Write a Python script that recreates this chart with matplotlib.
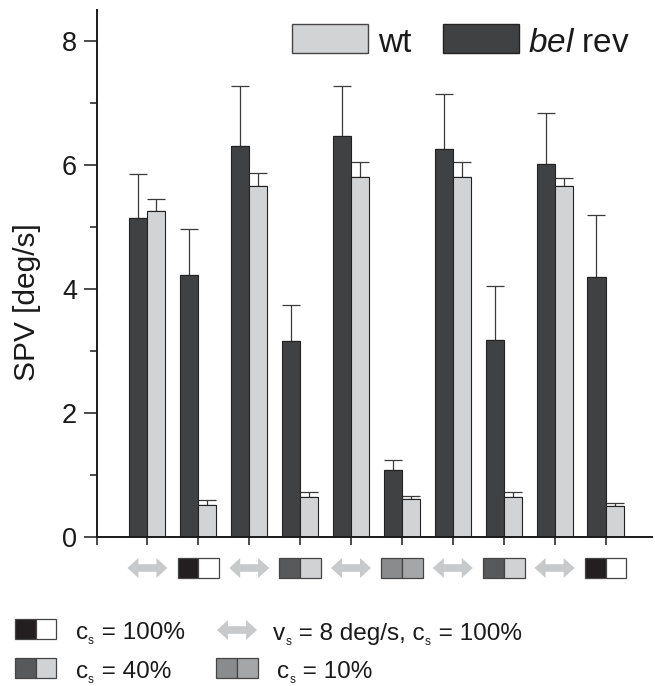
import numpy as np
import matplotlib
matplotlib.use("Agg")
import matplotlib.pyplot as plt
from matplotlib.patches import Rectangle, Polygon
from matplotlib.ticker import MultipleLocator

plt.rcParams['font.family'] = ['Liberation Sans', 'DejaVu Sans']
plt.rcParams['mathtext.fontset'] = 'custom'
plt.rcParams['mathtext.rm'] = 'Liberation Sans'
plt.rcParams['mathtext.it'] = 'Liberation Sans:italic'

# ---- data ----
stimuli = ['arrow', 'c100', 'arrow', 'c40', 'arrow', 'c10', 'arrow', 'c40', 'arrow', 'c100']
bel_rev_mean = [5.14, 4.22, 6.31, 3.16, 6.46, 1.08, 6.26, 3.18, 6.02, 4.19]
bel_rev_err = [0.72, 0.75, 0.97, 0.59, 0.82, 0.16, 0.88, 0.87, 0.82, 1.00]
wt_mean = [5.26, 0.52, 5.66, 0.64, 5.81, 0.61, 5.81, 0.64, 5.66, 0.50]
wt_err = [0.19, 0.07, 0.21, 0.08, 0.24, 0.05, 0.24, 0.09, 0.13, 0.05]
series_labels = ['wt', r'$\mathit{bel}$ rev']
yticks = [0, 2, 4, 6, 8]
# legend labels as (text, is_subscript) segments
legend_items = [('c100', [('c', False), ('s', True), (' = 100%', False)]),
                ('arrow', [('v', False), ('s', True), (' = 8 deg/s, c', False), ('s', True), (' = 100%', False)]),
                ('c40', [('c', False), ('s', True), (' = 40%', False)]),
                ('c10', [('c', False), ('s', True), (' = 10%', False)])]

# ---- style ----
DARK = '#404142'
LIGHT = '#d2d3d5'
EDGE = '#222222'
ARROW = '#c8c9cb'
ICON = {'c100': ('#231f20', '#ffffff'),
        'c40': ('#58595b', '#d1d2d4'),
        'c10': ('#8a8b8d', '#a5a6a8')}

W, H = 655, 686
fig = plt.figure(figsize=(W / 100, H / 100), dpi=100)

ax_l, ax_r, ax_b, ax_t = 96.5, 652, 537, 10
ax = fig.add_axes([ax_l / W, (H - ax_b) / H, (ax_r - ax_l) / W, (ax_b - ax_t) / H])

pos = np.arange(1, len(stimuli) + 1)
bw = 0.355
ax.bar(pos - bw / 2, bel_rev_mean, width=bw, color=DARK, edgecolor=EDGE, linewidth=0.8, zorder=2)
ax.bar(pos + bw / 2, wt_mean, width=bw, color=LIGHT, edgecolor=EDGE, linewidth=0.8, zorder=2)
z = np.zeros(len(pos))
ax.errorbar(pos - bw / 2, bel_rev_mean, yerr=[z, bel_rev_err], fmt='none', ecolor='#3a3a3a',
            elinewidth=0.9, capsize=6.5, capthick=0.9, zorder=1)
ax.errorbar(pos + bw / 2, wt_mean, yerr=[z, wt_err], fmt='none', ecolor='#3a3a3a',
            elinewidth=0.9, capsize=6.5, capthick=0.9, zorder=1)

ax.set_xlim(0, (ax_r - ax_l) / 50.9)
ax.set_ylim(0, 8.5)
ax.set_xticks(np.arange(0, len(stimuli) + 1))
ax.set_xticklabels([])
ax.set_yticks(yticks)
ax.set_yticklabels([str(t) for t in yticks])
ax.yaxis.set_minor_locator(MultipleLocator(1))
for s in ['top', 'right']:
    ax.spines[s].set_visible(False)
for s in ['left', 'bottom']:
    ax.spines[s].set_linewidth(1.4)
    ax.spines[s].set_color('#1a1a1a')
ax.tick_params(axis='y', which='major', direction='out', length=9.5, width=1.1, labelsize=19.5, pad=4.5, colors='#1a1a1a')
ax.tick_params(axis='y', which='minor', direction='out', length=5, width=1.1, colors='#1a1a1a')
ax.tick_params(axis='x', which='major', direction='out', length=6, width=1.1, colors='#1a1a1a')

fig.text(27 / W, (H - 302) / H, 'SPV [deg/s]', rotation=90, ha='center', va='center',
         fontsize=21.5, color='#1a1a1a')

fig.canvas.draw()
renderer = fig.canvas.get_renderer()


def fx(x):
    return x / W


def fy(y):
    return (H - y) / H


def draw_arrow(cx, cy, w=40, h=20):
    hl = 11
    st = 3.8
    pts = [(cx - w / 2, cy), (cx - w / 2 + hl, cy - h / 2), (cx - w / 2 + hl, cy - st),
           (cx + w / 2 - hl, cy - st), (cx + w / 2 - hl, cy - h / 2), (cx + w / 2, cy),
           (cx + w / 2 - hl, cy + h / 2), (cx + w / 2 - hl, cy + st), (cx - w / 2 + hl, cy + st),
           (cx - w / 2 + hl, cy + h / 2)]
    fig.add_artist(Polygon([(fx(x), fy(y)) for x, y in pts], closed=True,
                           transform=fig.transFigure, facecolor=ARROW, edgecolor='none'))


def draw_squares(kind, cx, cy, s=20.8):
    c1, c2 = ICON[kind]
    for i, c in enumerate([c1, c2]):
        x0 = cx - s + i * s
        fig.add_artist(Rectangle((fx(x0), fy(cy + s / 2)), s / W, s / H, transform=fig.transFigure,
                                 facecolor=c, edgecolor='#444444', linewidth=0.9))


def draw_icon(kind, cx, cy):
    if kind == 'arrow':
        draw_arrow(cx, cy)
    else:
        draw_squares(kind, cx, cy)


def draw_segments(segs, x, baseline, size=17.5, subsize=8.5, subdrop=5):
    for txt, is_sub in segs:
        fs = subsize if is_sub else size
        y = baseline + (subdrop if is_sub else 0)
        t = fig.text(fx(x), fy(y), txt, fontsize=fs, ha='left', va='baseline', color='#1a1a1a')
        bb = t.get_window_extent(renderer)
        x += bb.width + (1 if is_sub else 0)


# icons under groups
for p, kind in zip(pos, stimuli):
    px = ax.transData.transform((p, 0))[0]
    draw_icon(kind, px, 568)

# bottom legend
leg_pos = [(35.5, 629, 76), (237, 630, 273), (35.5, 668, 76), (237, 668, 277)]
for (kind, segs), (icx, icy, tx) in zip(legend_items, leg_pos):
    draw_icon(kind, icx, icy)
    draw_segments(segs, tx, icy + 10)

# top legend
fig.add_artist(Rectangle((fx(292), fy(53)), 75.5 / W, 29 / H, transform=fig.transFigure,
                         facecolor=LIGHT, edgecolor='#444444', linewidth=1.0))
fig.text(fx(378), fy(52.5), series_labels[0], fontsize=24, ha='left', va='baseline', color='#1a1a1a')
fig.add_artist(Rectangle((fx(443), fy(53)), 75.5 / W, 29 / H, transform=fig.transFigure,
                         facecolor=DARK, edgecolor='#222222', linewidth=1.0))
fig.text(fx(528), fy(52.5), series_labels[1], fontsize=24, ha='left', va='baseline', color='#1a1a1a')

fig.savefig('out.png', dpi=100)
